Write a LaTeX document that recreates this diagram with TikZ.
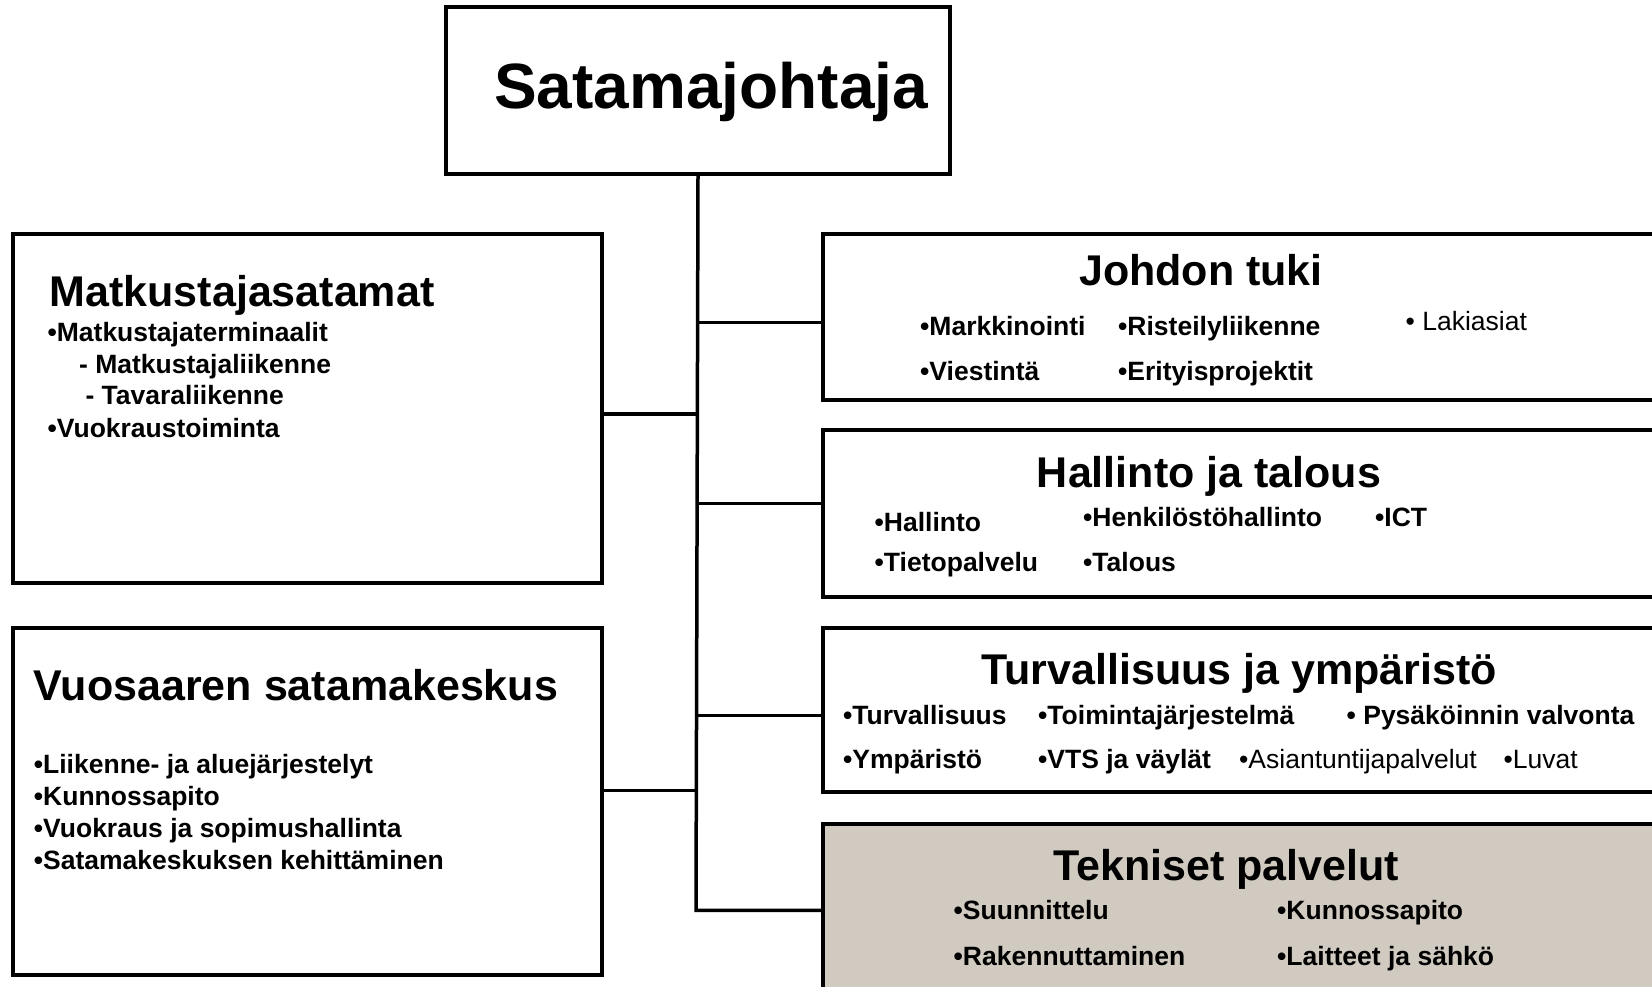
\documentclass[tikz,border=0pt]{standalone}
\usepackage{fontspec}
\setmainfont{Liberation Sans}
\definecolor{tekfill}{RGB}{208,202,192}
\begin{document}
\begin{tikzpicture}[x=1pt,y=1pt,
  box/.style={draw=black,line width=4pt,fill=white,inner sep=0pt,anchor=north west},
  conn/.style={draw=black,line width=3.5pt},
  ttl/.style={font=\fontsize{43}{48}\selectfont\bfseries,inner sep=0pt,anchor=base},
  ttlw/.style={font=\fontsize{43}{48}\selectfont\bfseries,inner sep=0pt,anchor=base west},
  itm/.style={font=\fontsize{26.5}{30}\selectfont\bfseries,inner sep=0pt,anchor=base west},
  itr/.style={font=\fontsize{26.5}{30}\selectfont,inner sep=0pt,anchor=base west}]
\useasboundingbox (0,0) rectangle (1652,-987);
\clip (0,0) rectangle (1652,-987);
\fill[white] (0,0) rectangle (1652,-987);

% boxes
\node[box,minimum width=504.6pt,minimum height=166.4pt] (top) at (443.7,-5.4) {};
\node[box,minimum width=589pt,minimum height=348.7pt] (L1) at (10.6,-231.9) {};
\node[box,minimum width=589pt,minimum height=346.6pt] (L2) at (10.6,-626) {};
\node[box,minimum width=900pt,minimum height=166.5pt] (R1) at (820.9,-231.9) {};
\node[box,minimum width=900pt,minimum height=167.5pt] (R2) at (820.9,-427.9) {};
\node[box,minimum width=900pt,minimum height=164.3pt] (R3) at (820.9,-626) {};
\node[box,fill=tekfill,minimum width=900pt,minimum height=250pt] (R4) at (820.9,-821.9) {};

% junctions on the trunk
\coordinate (jL1) at (696,-414.2);
\coordinate (jL2) at (696,-790.3);
\coordinate (jR1) at (696,-322.5);
\coordinate (jR2) at (696,-503.7);
\coordinate (jR3) at (696,-715.5);
\coordinate (jR4) at (696,-910.4);

% connectors
\draw[conn] (top.south) -- (jR4) -- (jR4 -| R4.west);
\draw[conn] (jL1) -- (jL1 -| L1.east);
\draw[conn] (jL2) -- (jL2 -| L2.east);
\draw[conn] (jR1) -- (jR1 -| R1.west);
\draw[conn] (jR2) -- (jR2 -| R2.west);
\draw[conn] (jR3) -- (jR3 -| R3.west);

% top
\node[font=\fontsize{64}{70}\selectfont\bfseries,inner sep=0pt,anchor=base west] (ttop) at (494,-109) {Satamajohtaja};

% Matkustajasatamat
\node[ttlw] (tL1) at (49.5,-306.6) {Matkustajasatamat};
\node[itm] (L1a) at (47.4,-341) {•Matkustajaterminaalit};
\node[itm] (L1b) at (79,-373) {- Matkustajaliikenne};
\node[itm] (L1c) at (85.3,-404.6) {- Tavaraliikenne};
\node[itm] (L1d) at (47.4,-437) {•Vuokraustoiminta};

% Vuosaaren satamakeskus
\node[ttlw] (tL2) at (33.7,-700) {Vuosaaren satamakeskus};
\node[itm] (L2a) at (33.7,-773) {•Liikenne- ja aluejärjestelyt};
\node[itm] (L2b) at (33.7,-805) {•Kunnossapito};
\node[itm] (L2c) at (33.7,-837.6) {•Vuokraus ja sopimushallinta};
\node[itm] (L2d) at (33.7,-869) {•Satamakeskuksen kehittäminen};

% Johdon tuki
\node[ttl] (tR1) at (1201,-285.5) {Johdon tuki};
\node[itm] (R1a) at (920,-335) {•Markkinointi};
\node[itm] (R1b) at (1118,-335) {•Risteilyliikenne};
\node[itr] (R1c) at (1405.5,-330) {• Lakiasiat};
\node[itm] (R1d) at (920,-380) {•Viestintä};
\node[itm] (R1e) at (1118,-380) {•Erityisprojektit};

% Hallinto ja talous
\node[ttl] (tR2) at (1209,-487) {Hallinto ja talous};
\node[itm] (R2a) at (874.5,-531) {•Hallinto};
\node[itm] (R2b) at (1083,-526) {•Henkilöstöhallinto};
\node[itm] (R2c) at (1375,-526) {•ICT};
\node[itm] (R2d) at (874.5,-571) {•Tietopalvelu};
\node[itm] (R2e) at (1083,-571) {•Talous};

% Turvallisuus ja ymparisto
\node[ttl] (tR3) at (1239,-684) {Turvallisuus ja ympäristö};
\node[itm] (R3a) at (843,-724) {•Turvallisuus};
\node[itm] (R3b) at (1038,-724) {•Toimintajärjestelmä};
\node[itm] (R3c) at (1346.5,-724) {• Pysäköinnin valvonta};
\node[itm] (R3d) at (843,-768) {•Ympäristö};
\node[itm] (R3e) at (1038,-768) {•VTS ja väylät};
\node[itr] (R3f) at (1239,-768) {•Asiantuntijapalvelut};
\node[itr] (R3g) at (1503.5,-768) {•Luvat};

% Tekniset palvelut
\node[ttl] (tR4) at (1226,-880) {Tekniset palvelut};
\node[itm] (R4a) at (953.5,-919) {•Suunnittelu};
\node[itm] (R4b) at (1277,-919) {•Kunnossapito};
\node[itm] (R4c) at (953.5,-965) {•Rakennuttaminen};
\node[itm] (R4d) at (1277,-965) {•Laitteet ja sähkö};
\end{tikzpicture}
\end{document}
